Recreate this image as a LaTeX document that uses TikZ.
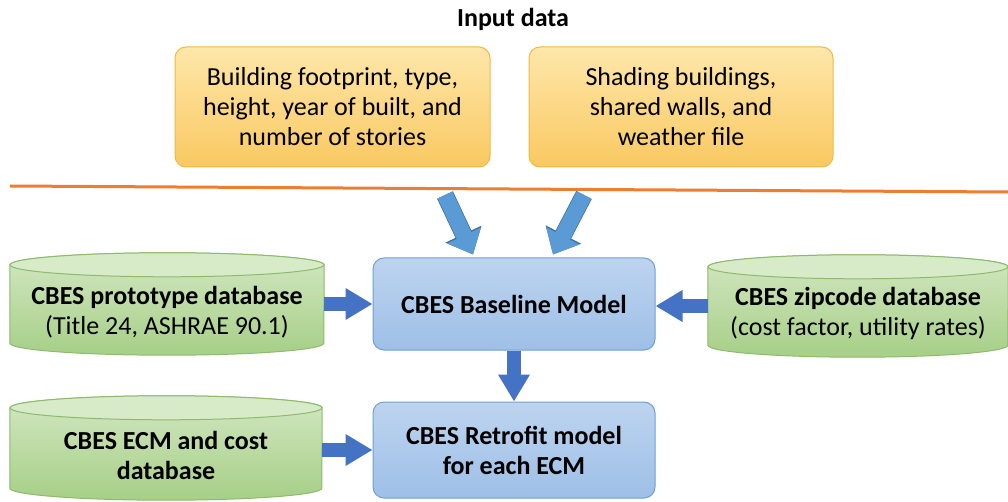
\documentclass[tikz,border=0pt]{standalone}
\usepackage{fontspec}
\setmainfont{Carlito}
\usetikzlibrary{arrows.meta}
\definecolor{orTop}{HTML}{FEE7AA}
\definecolor{orBot}{HTML}{F9C961}
\definecolor{orLine}{HTML}{F2B941}
\definecolor{blTop}{HTML}{BDD4EF}
\definecolor{blBot}{HTML}{9EBFE7}
\definecolor{blLine}{HTML}{6F9FD4}
\definecolor{grTop}{HTML}{D3E7C2}
\definecolor{grBot}{HTML}{A6CF87}
\definecolor{grLine}{HTML}{8DBA6C}
\definecolor{grCap}{HTML}{D8EBC9}
\definecolor{sepLine}{HTML}{ED7D31}
\definecolor{arrDark}{HTML}{4472C4}
\definecolor{arrLight}{HTML}{5B9BD5}
\definecolor{arrEdge}{HTML}{41719C}
\newcommand\drawcyl[2]{% name, x radius
  \draw[cylbody] ([yshift=-12pt]#1.north west) -- ([yshift=12pt]#1.south west)
    arc[start angle=180,end angle=360,x radius=#2,y radius=12pt]
    -- ([yshift=-12pt]#1.north east)
    arc[start angle=0,end angle=180,x radius=#2,y radius=12pt] -- cycle;
  \draw[cylcap] ([yshift=-12pt]#1.north) ellipse[x radius=#2,y radius=12pt];
}
\begin{document}
\begin{tikzpicture}[x=1pt,y=-1pt,
  txt/.style={font=\fontsize{26}{30}\selectfont, align=center, text=black},
  btxt/.style={font=\fontsize{26}{30}\selectfont\bfseries, align=center, text=black},
  inbox/.style={draw=orLine, line width=1pt, rounded corners=11pt, top color=orTop, bottom color=orBot, inner sep=0pt},
  blbox/.style={draw=blLine, line width=1pt, rounded corners=11pt, top color=blTop, bottom color=blBot, inner sep=0pt},
  cylshape/.style={rectangle, inner sep=0pt},
  cylbody/.style={draw=grLine, line width=1pt, top color=grTop, bottom color=grBot},
  cylcap/.style={draw=grLine, line width=1pt, fill=grCap},
  harrow/.style={draw=arrDark, line width=14pt, -{Triangle[length=27pt,width=30pt]}},
  darrow/.style={draw=arrLight, line width=16pt, -{Triangle[length=21pt,width=36pt]},
    preaction={draw=arrEdge, line width=17.5pt, -{Triangle[length=22.5pt,width=38.5pt]}}}
]
\useasboundingbox (0,0) rectangle (1008,502);
\clip (0,0) rectangle (1008,502);

% title
\node[font=\fontsize{26}{30}\selectfont\bfseries] (title) at (513,19) {Input data};

% input boxes
\node[inbox, minimum width=315pt, minimum height=120pt] (in1) at (332.5,107) {};
\node[txt] at (in1.center) {Building footprint, type,\\height, year of built, and\\number of stories};
\node[inbox, minimum width=304pt, minimum height=120pt] (in2) at (681,107) {};
\node[txt] at (in2.center) {Shading buildings,\\shared walls, and\\weather file};

% separator line
\coordinate (sepL) at (10,186);
\coordinate (sepR) at (1008,192);
\draw[sepLine, line width=3pt] (sepL) -- (sepR);

% models
\node[blbox, minimum width=282pt, minimum height=92pt] (base) at (514,304) {};
\node[btxt] at (base.center) {CBES Baseline Model};
\node[blbox, minimum width=282pt, minimum height=96pt] (retro) at (514,450) {};
\node[btxt] at (retro.center) {CBES Retrofit model\\for each ECM};

% cylinders
\node[cylshape, minimum width=314pt, minimum height=102pt] (proto) at (167,304) {};
\drawcyl{proto}{157pt}
\node[txt] at (167,312) {\textbf{CBES prototype database}\\(Title 24, ASHRAE 90.1)};

\node[cylshape, minimum width=300pt, minimum height=102pt] (zip) at (858,306) {};
\drawcyl{zip}{150pt}
\node[txt] at (858,313) {\textbf{CBES zipcode database}\\(cost factor, utility rates)};

\node[cylshape, minimum width=312pt, minimum height=104pt] (ecm) at (166,448) {};
\drawcyl{ecm}{156pt}
\node[btxt] at (166,455) {CBES ECM and cost\\database};

% arrows
\coordinate (d1) at (445,195);
\coordinate (d2) at (584,195);
\draw[darrow] (d1) -- ([xshift=-41pt,yshift=3pt]base.north);
\draw[darrow] (d2) -- ([xshift=39pt,yshift=3pt]base.north);
\draw[harrow] (proto.east) -- (proto.east -| base.west);
\draw[harrow] (zip.west) -- (zip.west -| base.east);
\draw[harrow] (base.south) -- (retro.north);
\draw[harrow] (ecm.east |- retro.west) -- (retro.west);
\end{tikzpicture}
\end{document}
